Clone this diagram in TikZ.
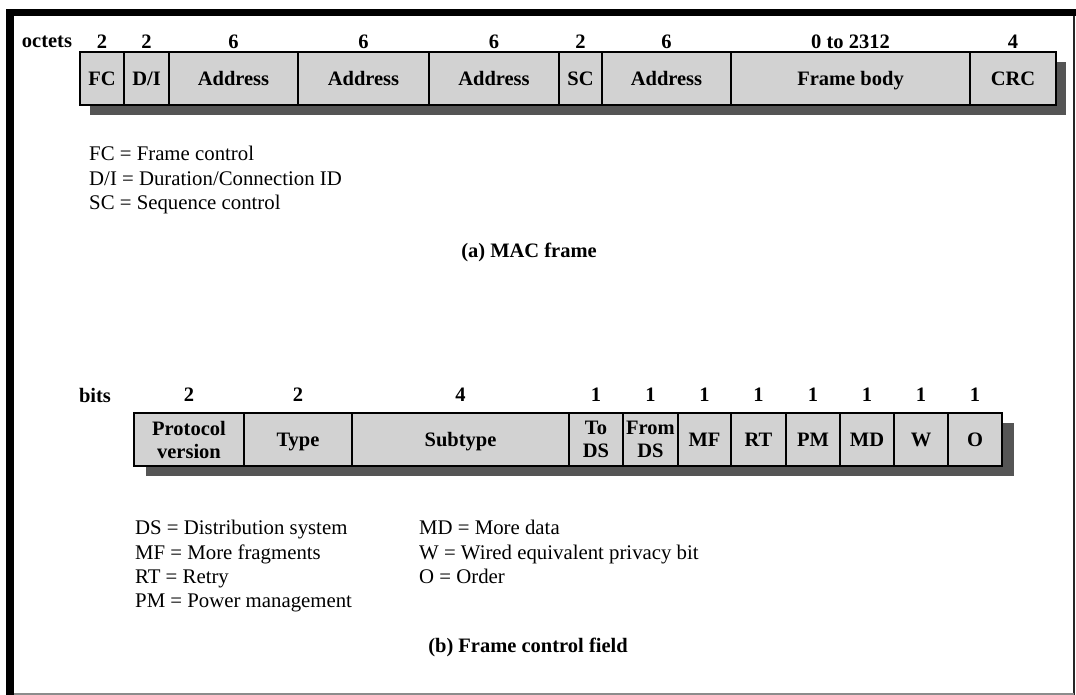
\documentclass[tikz,border=0pt]{standalone}
\usepackage{fontspec}
\setmainfont{Liberation Serif}
\usetikzlibrary{backgrounds}
\definecolor{fieldgray}{HTML}{D2D2D2}
\definecolor{shadowgray}{HTML}{555555}
\begin{document}
\begin{tikzpicture}[x=1pt,y=-1pt,
  field/.style={draw=black, line width=1.8pt, fill=fieldgray, anchor=north west,
    minimum height=53pt, inner sep=0pt, outer sep=0pt, align=center,
    font=\bfseries\fontsize{20.5}{23}\selectfont},
  onefield/.style={field, text height=14pt, text depth=0pt},
  num/.style={inner sep=0pt, font=\bfseries\fontsize{20.5}{22}\selectfont},
  legend/.style={anchor=base west, inner sep=0pt, font=\fontsize{20.8}{22}\selectfont},
  caption/.style={anchor=base, inner sep=0pt, font=\bfseries\fontsize{20.5}{22}\selectfont},
  shadow/.style={fill=shadowgray}]
\useasboundingbox (0,0) rectangle (1076,695);

% page frame: heavy top and left rules, thin right and bottom rules
\fill[black] (6,9) rectangle (14,695);
\fill[black] (6,9) rectangle (1076,16);
\draw[line width=1.5pt, black!85] (1074,16) -- (1074,695);
\draw[line width=1.5pt, black!45] (14,694) -- (1074,694);

% ---------------- (a) MAC frame ----------------
\coordinate (rowA) at (0,42);
\node[num] (octets) at (47,42) {octets};
\node[onefield, minimum width=44pt]  (fc)    at (80,52)  {FC};
\node[onefield, minimum width=45pt]  (di)    at (124,52) {D/I};
\node[onefield, minimum width=129pt] (addr1) at (169,52) {Address};
\node[onefield, minimum width=131pt] (addr2) at (298,52) {Address};
\node[onefield, minimum width=130pt] (addr3) at (429,52) {Address};
\node[onefield, minimum width=43pt]  (sc)    at (559,52) {SC};
\node[onefield, minimum width=129pt] (addr4) at (602,52) {Address};
\node[onefield, minimum width=239pt] (body)  at (731,52) {Frame body};
\node[onefield, minimum width=86pt]  (crc)   at (970,52) {CRC};
\begin{scope}[on background layer]
  \fill[shadow] ([shift={(10,10)}]fc.north west) rectangle ([shift={(10,10)}]crc.south east);
\end{scope}
\foreach \f/\n in {fc/2, di/2, addr1/6, addr2/6, addr3/6, sc/2, addr4/6, body/0 to 2312, crc/4}
  \node[num] (n-\f) at (\f |- rowA) {\n};

\node[legend] (lfc) at (89,161) {FC = Frame control};
\node[legend] (ldi) at (89,186) {D/I = Duration/Connection ID};
\node[legend] (lsc) at (89,210) {SC = Sequence control};
\node[caption] (capA) at (529,257) {(a) MAC frame};

% ---------------- (b) Frame control field ----------------
\coordinate (rowB) at (0,395);
\node[num] (bits) at (95,395) {bits};
\node[field, minimum width=110pt]    (pv)   at (134,413) {Protocol\\version};
\node[onefield, minimum width=108pt] (type) at (244,413) {Type};
\node[onefield, minimum width=217pt] (sub)  at (352,413) {Subtype};
\node[field, minimum width=54pt]     (tods) at (569,413) {To\\DS};
\node[field, minimum width=55pt]     (frds) at (623,413) {From\\DS};
\node[onefield, minimum width=53pt]  (mf)   at (678,413) {MF};
\node[onefield, minimum width=55pt]  (rt)   at (731,413) {RT};
\node[onefield, minimum width=54pt]  (pm)   at (786,413) {PM};
\node[onefield, minimum width=54pt]  (md)   at (840,413) {MD};
\node[onefield, minimum width=54pt]  (w)    at (894,413) {W};
\node[onefield, minimum width=54pt]  (o)    at (948,413) {O};
\begin{scope}[on background layer]
  \fill[shadow] ([shift={(12,10)}]pv.north west) rectangle ([shift={(12,10)}]o.south east);
\end{scope}
\foreach \f/\n in {pv/2, type/2, sub/4, tods/1, frds/1, mf/1, rt/1, pm/1, md/1, w/1, o/1}
  \node[num] (n-\f) at (\f |- rowB) {\n};

\node[legend] (lds) at (135,534) {DS = Distribution system};
\node[legend] (lmf) at (135,559) {MF = More fragments};
\node[legend] (lrt) at (135,583) {RT = Retry};
\node[legend] (lpm) at (135,607) {PM = Power management};
\node[legend] (lmd) at (419,534) {MD = More data};
\node[legend] (lw)  at (419,559) {W = Wired equivalent privacy bit};
\node[legend] (lo)  at (419,583) {O = Order};
\node[caption] (capB) at (528,652) {(b) Frame control field};
\end{tikzpicture}
\end{document}
